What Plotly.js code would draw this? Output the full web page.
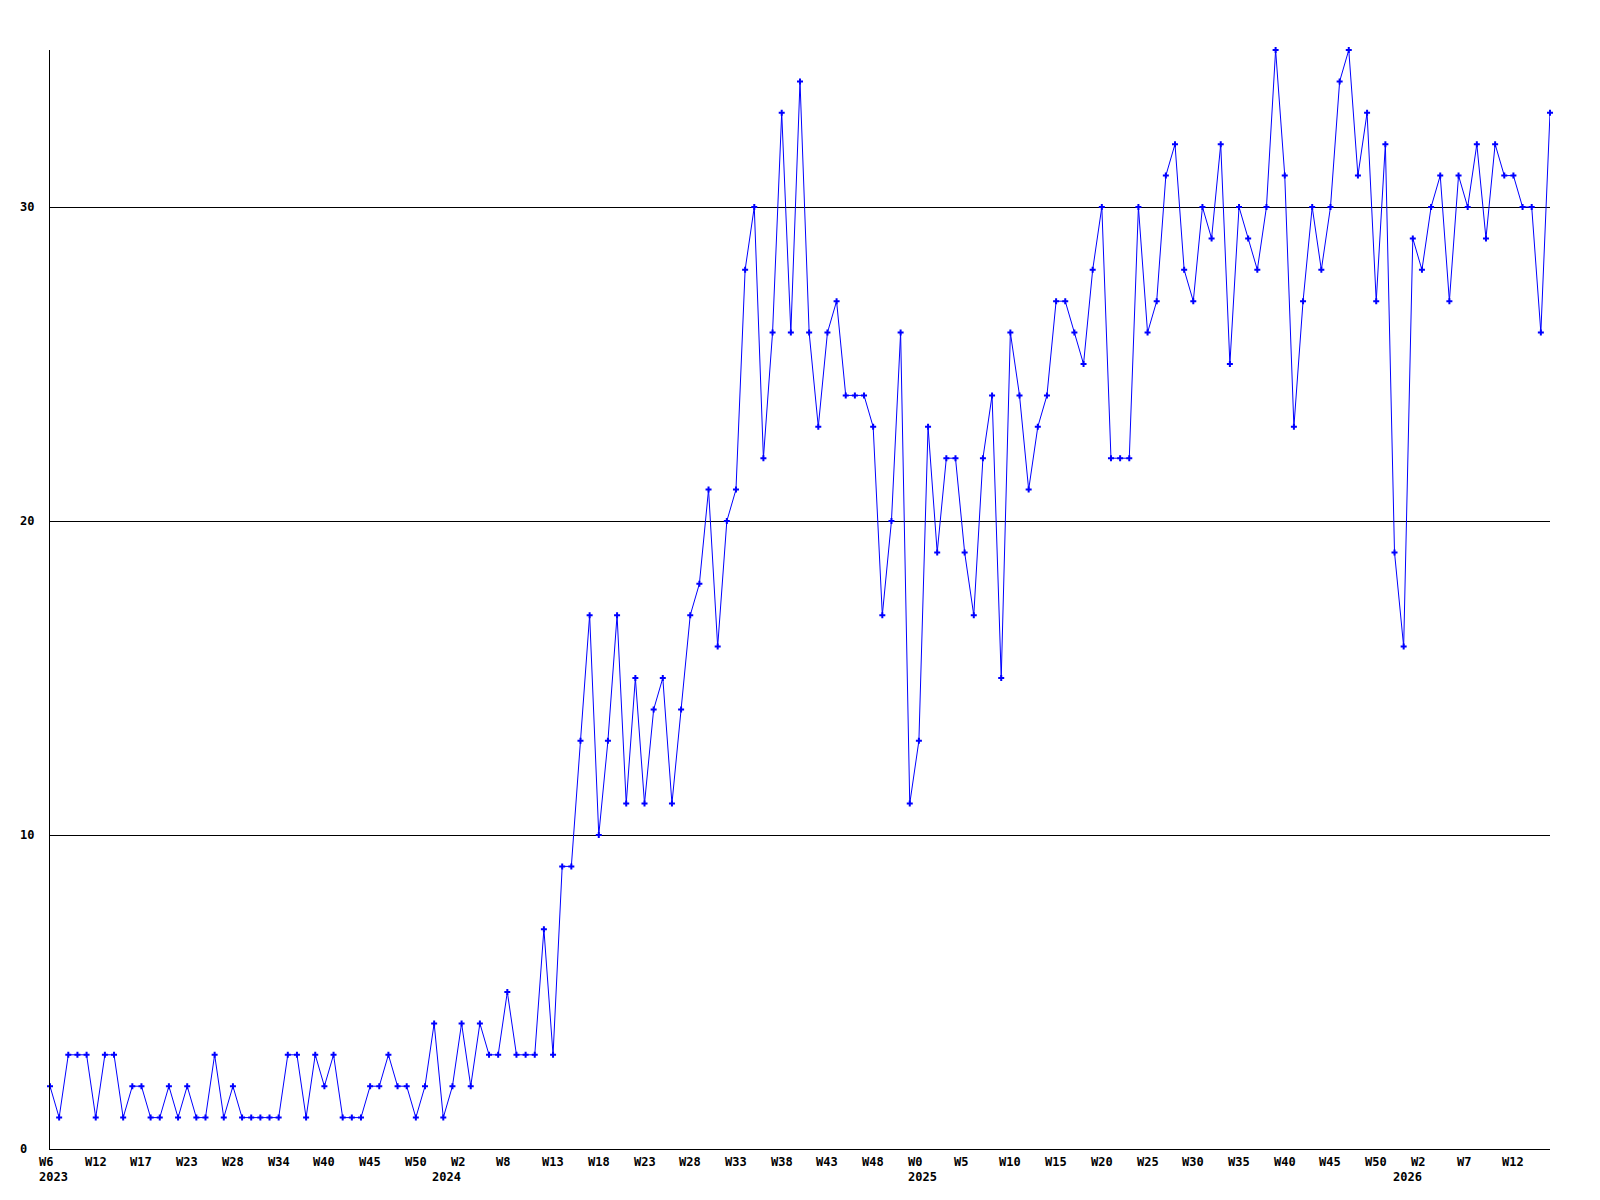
<!DOCTYPE html>
<html>
<head>
<meta charset="utf-8">
<script src="https://cdn.plot.ly/plotly-3.0.1.min.js"></script>
<style>html,body{margin:0;padding:0;background:#fff;}#chart{width:1600px;height:1200px;}</style>
</head>
<body>
<div id="chart"></div>
<script>
// Weekly values, 2023 W6 onward (one value per week)
const values = [
  2,1,3,3,3,1,3,3,1,2,2,1,1,2,1,2,1,1,3,1,2,1,1,1,1,1,3,3,1,3,2,3,
  1,1,1,2,2,3,2,2,1,2,4,1,2,4,2,4,3,3,5,3,3,3,7,3,9,9,13,17,10,13,
  17,11,15,11,14,15,11,14,17,18,21,16,20,21,28,30,22,26,33,26,34,26,23,26,
  27,24,24,24,23,17,20,26,11,13,23,19,22,22,19,17,22,24,15,26,24,21,23,24,
  27,27,26,25,28,30,22,22,22,30,26,27,31,32,28,27,30,29,32,25,30,29,28,30,
  35,31,23,27,30,28,30,34,35,31,33,27,32,19,16,29,28,30,31,27,31,30,32,29,
  32,31,31,30,30,26,33
];
// Week tick labels (one every 5 weeks)
const weekTickLabels = ['W6','W12','W17','W23','W28','W34','W40','W45','W50','W2','W8','W13','W18',
  'W23','W28','W33','W38','W43','W48','W0','W5','W10','W15','W20','W25','W30','W35','W40','W45','W50',
  'W2','W7','W12'];
const tickStep = 5;
// Year labels and the week index where each year starts
const yearLabels = ['2023','2024','2025','2026'];
const yearStartIdx = [0, 43, 95, 148];
// Y tick values
const yTickVals = [0, 10, 20, 30];

const xs = values.map((_, i) => i);
const font = {family: '"DejaVu Sans Mono", "Liberation Mono", monospace', size: 12, color: '#000', weight: 'bold'};

const annotations = [];
weekTickLabels.forEach((t, k) => {
  annotations.push({xref: 'x', yref: 'paper', x: k * tickStep, y: 0, text: t, showarrow: false,
    xanchor: 'left', yanchor: 'middle', xshift: -13, yshift: -13, font: font});
});
yearLabels.forEach((t, k) => {
  annotations.push({xref: 'x', yref: 'paper', x: yearStartIdx[k], y: 0, text: t, showarrow: false,
    xanchor: 'left', yanchor: 'middle', xshift: -13, yshift: -28, font: font});
});
yTickVals.forEach(v => {
  annotations.push({xref: 'paper', yref: 'y', x: 0, y: v, text: String(v), showarrow: false,
    xanchor: 'left', yanchor: 'middle', xshift: -32, font: font});
});

const trace = {
  x: xs, y: values, type: 'scatter', mode: 'lines+markers',
  line: {color: '#0000ff', width: 1},
  marker: {color: '#0000ff', symbol: 'cross', size: 5},
  cliponaxis: false, hoverinfo: 'skip'
};

const layout = {
  width: 1600, height: 1200,
  margin: {l: 50, r: 50, t: 50, b: 51, pad: 0},
  paper_bgcolor: '#fff', plot_bgcolor: '#fff',
  showlegend: false,
  xaxis: {range: [0, values.length - 1], showgrid: false, zeroline: false, showline: true,
    linecolor: '#000', linewidth: 1, showticklabels: false, ticks: ''},
  yaxis: {range: [0, 35], tickvals: yTickVals.filter(v => v > 0), showgrid: true, gridcolor: '#000', gridwidth: 1,
    zeroline: false, showline: true, linecolor: '#000', linewidth: 1, showticklabels: false, ticks: ''},
  annotations: annotations
};

Plotly.newPlot('chart', [trace], layout, {staticPlot: true, displayModeBar: false});
</script>
</body>
</html>
